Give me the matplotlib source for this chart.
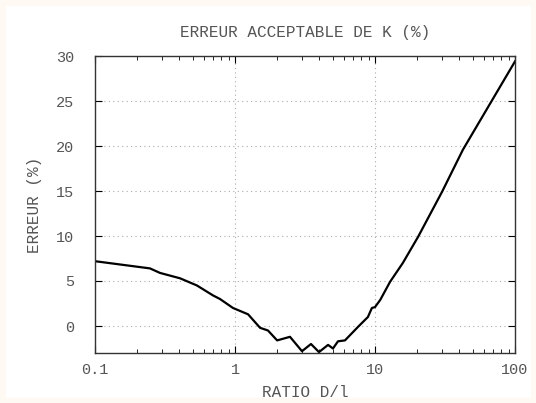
import matplotlib
matplotlib.use("Agg")
import matplotlib.pyplot as plt
from matplotlib.patches import Rectangle
from matplotlib.ticker import LogLocator, FixedLocator, NullFormatter

ratio = [0.1, 0.247, 0.291, 0.405, 0.535, 0.696, 0.781, 0.968, 1.24, 1.51, 1.72,
         2.0, 2.47, 3.01, 3.49, 3.98, 4.62, 5.01, 5.44, 6.1, 7.56, 8.9, 9.5, 10.0,
         10.9, 12.8, 15.8, 20.3, 30.1, 42.5, 100]
erreur = [7.2, 6.4, 5.9, 5.3, 4.5, 3.4, 3.0, 2.0, 1.3, -0.2, -0.5,
          -1.6, -1.2, -2.8, -2.0, -2.9, -2.1, -2.5, -1.7, -1.6, -0.1, 1.0, 2.0, 2.1,
          2.9, 4.9, 7.0, 9.9, 14.9, 19.6, 29.4]
xticks = [0.1, 1, 10, 100]
xticklabels = ["0.1", "1", "10", "100"]
yticks = [0, 5, 10, 15, 20, 25, 30]

font = "Liberation Mono"
tc = "#555555"

fig = plt.figure(figsize=(5.36, 4.03), dpi=100, facecolor="white")
fig.patches.append(Rectangle((0, 0), 1, 1, transform=fig.transFigure, fill=False,
                             edgecolor="#fefaf3", linewidth=8, zorder=0))
ax = fig.add_axes([95/536, 1-353/403, (515-95)/536, (353-56)/403])
ax.plot(ratio, erreur, color="black", linewidth=1.6)
ax.set_xscale("log")
ax.set_xlim(0.1, 100)
ax.set_ylim(-3, 30)
ax.xaxis.set_major_locator(FixedLocator(xticks))
ax.set_xticklabels(xticklabels)
ax.xaxis.set_minor_locator(LogLocator(base=10, subs=range(2, 10), numticks=20))
ax.xaxis.set_minor_formatter(NullFormatter())
ax.set_yticks(yticks)
ax.tick_params(which="both", direction="in", top=True, right=True, colors="black",
               labelcolor=tc, labelsize=11)
ax.tick_params(axis="x", pad=7)
ax.tick_params(axis="y", pad=15)
ax.tick_params(which="major", length=5)
ax.tick_params(which="minor", length=3)
for lab in ax.get_xticklabels() + ax.get_yticklabels():
    lab.set_fontfamily(font)
ax.grid(True, which="major", color="#aaaaaa", linestyle=(0, (1, 3)), linewidth=0.8)
for s in ax.spines.values():
    s.set_color("#333333")
    s.set_linewidth(1.0)
ax.set_title("ERREUR ACCEPTABLE DE K (%)", fontfamily=font, fontsize=11.5, color=tc, pad=14)
ax.set_xlabel("RATIO D/l", fontfamily=font, fontsize=11.5, color=tc, labelpad=6)
ax.set_ylabel("ERREUR (%)", fontfamily=font, fontsize=11.5, color=tc, labelpad=10)
fig.savefig("out.png", dpi=100, facecolor="white")
